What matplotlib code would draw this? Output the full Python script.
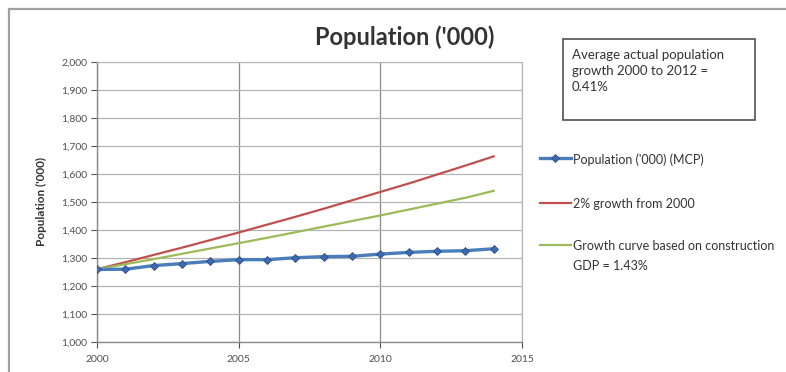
import matplotlib
matplotlib.use("Agg")
import matplotlib.pyplot as plt
from matplotlib.patches import Rectangle
from matplotlib.lines import Line2D
from matplotlib.ticker import FuncFormatter, MultipleLocator

plt.rcParams['font.family'] = ['Lato', 'DejaVu Sans']

years = list(range(2000, 2015))
population = [1259, 1260, 1273, 1280, 1288, 1294, 1294, 1301, 1305, 1306,
              1314, 1320, 1324, 1326, 1333]
growth_2pct = [1260, 1285, 1311, 1337, 1364, 1391, 1419, 1447, 1476, 1506,
               1536, 1566, 1598, 1630, 1663]
growth_gdp = [1260, 1278, 1296, 1315, 1334, 1353, 1372, 1392, 1412, 1432,
              1452, 1473, 1494, 1515, 1540]

labels = ["Population ('000) (MCP)", "2% growth from 2000",
          "Growth curve based on construction\nGDP = 1.43%"]
title = "Population ('000)"
ylabel = "Population ('000)"
note = "Average actual population\ngrowth 2000 to 2012 =\n0.41%"

W, H = 786, 372
fig = plt.figure(figsize=(W / 100, H / 100), dpi=100)
fig.patch.set_facecolor('white')
TXT = '#333333'

# chart-area frame
fig.patches.append(Rectangle((9 / W, -0.1), 1.2, 1 - 9 / H + 0.1,
                             transform=fig.transFigure, fill=False,
                             edgecolor='#a0a0a0', linewidth=1.6))

ax = fig.add_axes([97 / W, 1 - 342 / H, (522 - 97) / W, (342 - 62) / H])
l1, = ax.plot(years, population, color='#4A7EBB', lw=2.4, marker='D', ms=4.5,
              markerfacecolor='#3E6AAE', markeredgecolor='#2F4F8A', mew=0.6,
              zorder=4)
l2, = ax.plot(years, growth_2pct, color='#C0504D', lw=1.6, zorder=3)
l3, = ax.plot(years, growth_gdp, color='#9BBB59', lw=1.6, zorder=3)

ax.set_xlim(2000, 2015)
ax.set_ylim(1000, 2000)
ax.xaxis.set_major_locator(MultipleLocator(5))
ax.yaxis.set_major_locator(MultipleLocator(100))
ax.yaxis.set_major_formatter(FuncFormatter(lambda v, p: f"{int(v):,}"))

ax.grid(axis='y', color='#b4b4b4', lw=0.9)
ax.grid(axis='x', color='#8a8a8a', lw=0.9)
ax.set_axisbelow(True)
for s in ['left', 'bottom']:
    ax.spines[s].set_color('#8a8a8a')
    ax.spines[s].set_linewidth(1.0)
ax.spines['top'].set_color('#b4b4b4')
ax.spines['right'].set_color('#b4b4b4')
ax.tick_params(axis='both', labelsize=7.5, colors='#505050', length=4,
               width=0.8, pad=3)
ax.tick_params(axis='x', pad=5)

ax.set_ylabel(ylabel, fontsize=8.5, fontweight='bold', color=TXT,
              labelpad=10)

fig.text(405 / W, 1 - 37 / H, title, ha='center', va='center',
         fontsize=17, fontweight='bold', color=TXT)

# note box
fig.patches.append(Rectangle((563 / W, 1 - 120 / H), (755 - 563) / W,
                             (120 - 39) / H, transform=fig.transFigure,
                             fill=False, edgecolor='#505050', linewidth=1.2))
fig.text(572 / W, 1 - 49 / H, note, ha='left', va='top', fontsize=9.5,
         color=TXT, linespacing=1.4)

# legend entries, first text line aligned with the sample line
for line, label, y in zip([l1, l2, l3], labels, [158, 203, 245]):
    yf = 1 - y / H
    sample = Line2D([540 / W, 571 / W], [yf, yf], transform=fig.transFigure,
                    color=line.get_color(), lw=line.get_linewidth())
    fig.lines.append(sample)
    if line.get_marker() not in (None, 'None', ''):
        fig.lines.append(Line2D([555 / W], [yf], transform=fig.transFigure,
                                linestyle='none', marker=line.get_marker(),
                                ms=line.get_markersize(),
                                markerfacecolor=line.get_markerfacecolor(),
                                markeredgecolor=line.get_markeredgecolor(),
                                mew=line.get_markeredgewidth()))
    fig.text(573 / W, yf + 5 / H, label, ha='left', va='top', fontsize=9,
             color=TXT, linespacing=1.75)

fig.savefig('out.png', dpi=100, facecolor='white')
